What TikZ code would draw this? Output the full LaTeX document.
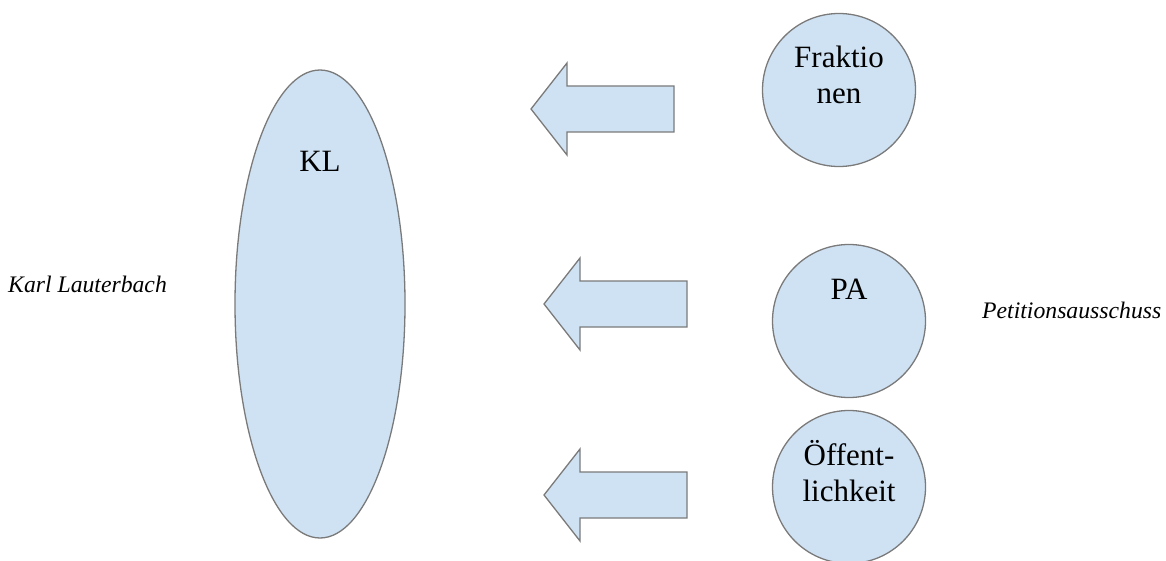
\documentclass[tikz,border=0pt]{standalone}
\usepackage{fontspec}
\setmainfont{Liberation Serif}
\usetikzlibrary{shapes.geometric}
\definecolor{paleblue}{HTML}{CFE2F3}
\definecolor{rimgray}{HTML}{7A7A7A}
\begin{document}
\begin{tikzpicture}[x=1pt,y=-1pt,
    blob/.style={draw=rimgray,fill=paleblue,line width=1.3pt},
    bigtxt/.style={font=\fontsize{31}{36}\selectfont,align=center,inner sep=0pt,anchor=base},
    sidetxt/.style={font=\fontsize{23.7}{28}\selectfont\itshape,inner sep=0pt,anchor=base west},
    blockarrow/.pic={\draw[blob] (0,0) -- (36,-46) -- (36,-23) -- (143,-23)
                       -- (143,23) -- (36,23) -- (36,46) -- cycle;}]
  \useasboundingbox (0,0) rectangle (1166,561);

  % the minister
  \node [blob,ellipse,minimum width=170,minimum height=468] (kl) at (320,304) {};
  \node [bigtxt] (kltxt) at (320,172) {KL};
  \node [sidetxt] (klname) at (8,292) {Karl Lauterbach};

  % who pushes
  \node [blob,circle,minimum size=153] (frak) at (839,90) {};
  \node [bigtxt] (fraktxt) at (839,104) {Fraktio\\nen};
  \node [blob,circle,minimum size=153] (pa) at (849,321) {};
  \node [bigtxt] (patxt) at (849,299) {PA};
  \node [sidetxt] (paname) at (982,318) {Petitionsausschuss};
  \node [blob,circle,minimum size=153] (oeff) at (849,487) {};
  \node [bigtxt] (oefftxt) at (849,501) {Öffent-\\lichkeit};

  % pressure arrows
  \pic at (531,109) {blockarrow};
  \pic at (544,304) {blockarrow};
  \pic at (544,495) {blockarrow};
\end{tikzpicture}
\end{document}
